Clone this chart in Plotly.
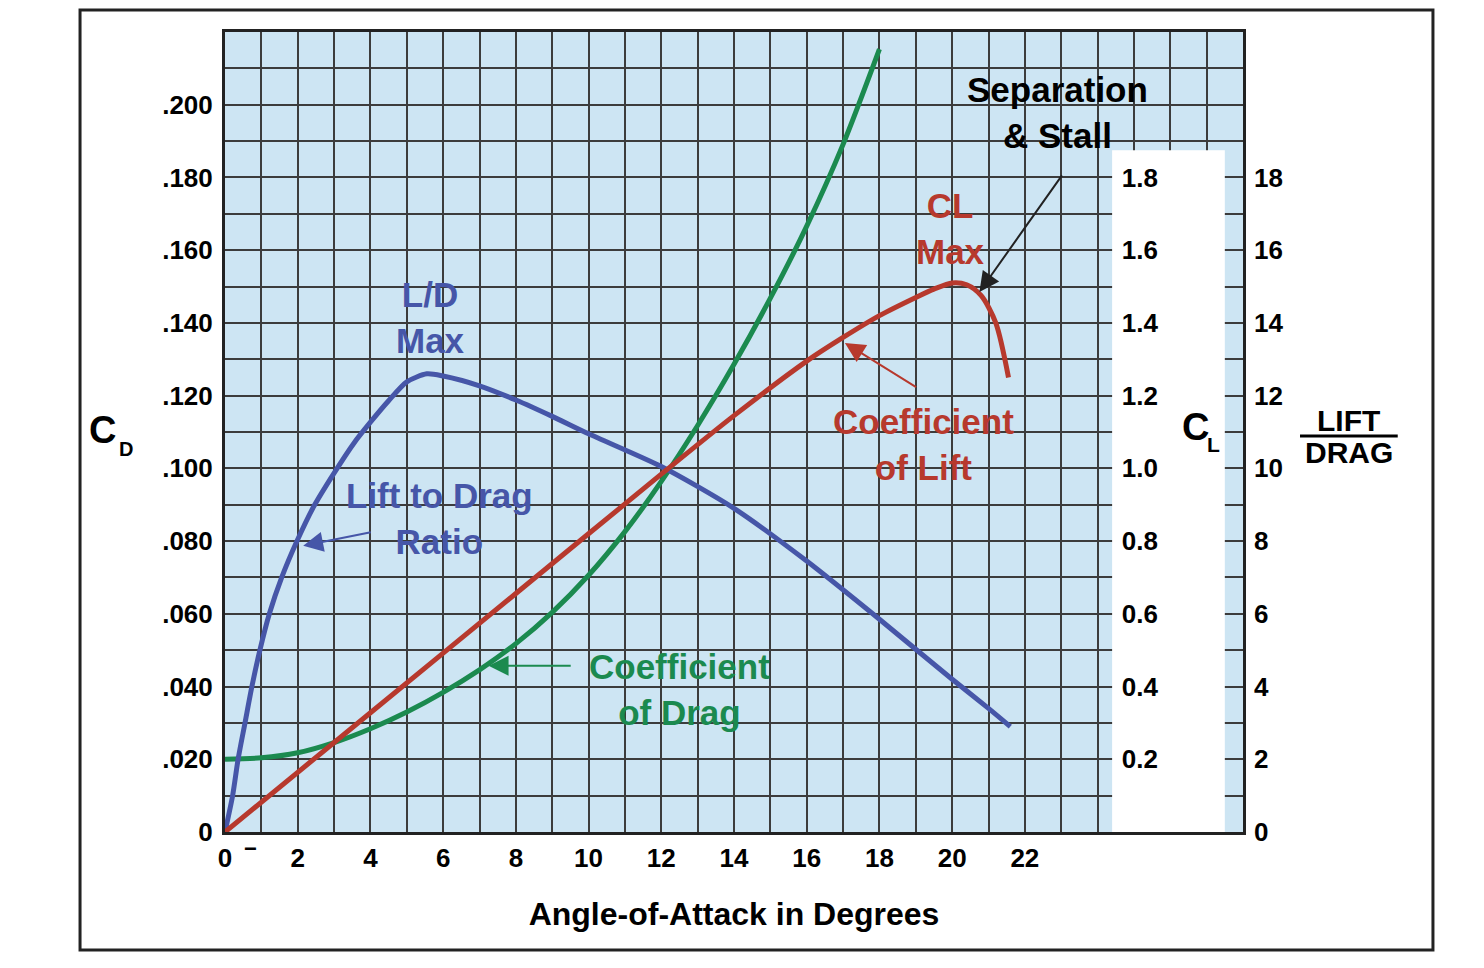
import plotly.graph_objects as go

# angle of attack (deg) and drag coefficient
aoa_drag = [0, 1, 2, 3, 4, 5, 6, 7, 8, 9, 10, 11, 12, 13, 14, 15, 16, 17, 18]
cd_values = [0.0200, 0.0204, 0.0218, 0.0246, 0.0284, 0.0330, 0.0384, 0.0446, 0.0518, 0.0604,
             0.0706, 0.0826, 0.0964, 0.1118, 0.1286, 0.1468, 0.1666, 0.1891, 0.2153]

# lift coefficient
aoa_lift = [0, 4, 8, 12, 14, 16, 17, 18, 19, 19.5, 20, 20.4, 20.8, 21.2, 21.55]
cl_values = [0, 0.328, 0.656, 0.984, 1.145, 1.295, 1.36, 1.42, 1.47, 1.493, 1.51, 1.505, 1.475, 1.40, 1.25]

# lift to drag ratio
aoa_ratio = [0, 0.21, 0.36, 0.55, 0.74, 0.96, 1.22, 1.56, 1.98, 2.44, 3.0, 3.55, 4.0, 4.5, 5.0,
             5.55, 6.0, 7.0, 8.0, 9.0, 10, 12, 14, 16, 18, 20, 21, 21.6]
ld_values = [0, 1, 2, 3, 4, 5, 6, 7, 8, 8.95, 9.87, 10.7, 11.27, 11.86, 12.38,
             12.6, 12.54, 12.27, 11.88, 11.43, 10.95, 10.05, 8.9, 7.45, 5.85, 4.2, 3.4, 2.9]

# tick labels
x_ticks = [0, 2, 4, 6, 8, 10, 12, 14, 16, 18, 20, 22]
cd_ticks = [0, 0.02, 0.04, 0.06, 0.08, 0.10, 0.12, 0.14, 0.16, 0.18, 0.20]
cd_labels = ['0', '.020', '.040', '.060', '.080', '.100', '.120', '.140', '.160', '.180', '.200']
cl_ticks = [0.2, 0.4, 0.6, 0.8, 1.0, 1.2, 1.4, 1.6, 1.8]
ld_ticks = [0, 2, 4, 6, 8, 10, 12, 14, 16, 18]

BLUE = '#4656a8'
RED = '#b7392d'
GREEN = '#1b8a4f'
FONT = 'Liberation Sans, Arial, sans-serif'
tickfont = dict(family=FONT, size=26, color='black', weight='bold')
grid = dict(gridcolor='#3c3c3c', gridwidth=1.6)

fig = go.Figure()

fig.add_trace(go.Scatter(x=aoa_drag, y=cd_values, mode='lines', yaxis='y',
                         line=dict(color=GREEN, width=5, shape='spline', smoothing=0.8)))
fig.add_trace(go.Scatter(x=aoa_lift, y=cl_values, mode='lines', yaxis='y3',
                         line=dict(color=RED, width=5, shape='spline', smoothing=0.8)))
fig.add_trace(go.Scatter(x=aoa_ratio, y=ld_values, mode='lines', yaxis='y2',
                         line=dict(color=BLUE, width=5, shape='spline', smoothing=0.7)))

fig.update_layout(
    width=1484, height=968,
    margin=dict(l=217, r=249, t=24, b=144),
    paper_bgcolor='white', plot_bgcolor='#cde5f3',
    showlegend=False,
    xaxis=dict(range=[0, 28], tickvals=x_ticks, showgrid=True, **grid,
               minor=dict(dtick=1, showgrid=True, **grid),
               showline=True, linewidth=3, linecolor='#222', mirror=True,
               zeroline=False, ticks='', ticklabelstandoff=1, tickfont=tickfont,
               title=dict(text='Angle-of-Attack in Degrees', standoff=31,
                          font=dict(family=FONT, size=32, color='black', weight='bold'))),
    yaxis=dict(range=[0, 0.22], tickvals=cd_ticks, ticktext=cd_labels, showgrid=True, **grid,
               minor=dict(dtick=0.01, showgrid=True, **grid),
               showline=True, linewidth=3, linecolor='#222', mirror=True,
               zeroline=False, ticks='', ticklabelstandoff=4, tickfont=tickfont),
    yaxis2=dict(range=[0, 22], overlaying='y', side='right', tickvals=ld_ticks,
                showgrid=False, zeroline=False, ticks='', ticklabelstandoff=10,
                tickfont=tickfont),
    yaxis3=dict(range=[0, 2.2], overlaying='y', side='right', anchor='free', position=0.878,
                tickvals=cl_ticks, tickformat='.1f', showgrid=False, zeroline=False,
                showline=False, ticks='', ticklabelstandoff=2, tickfont=tickfont),
)

# white strip behind the C_L scale, outer frame
fig.add_shape(type='rect', xref='x', yref='y', x0=24.4, x1=27.5, y0=0, y1=0.1875,
              fillcolor='white', line_width=0, layer='between')
fig.add_shape(type='rect', xref='paper', yref='paper', x0=-0.1424, x1=1.1866, y0=-0.1475, y1=1.0275,
              line=dict(color='#222', width=3))


def label(text, x, y, color, size=35, xref='x', yref='y'):
    fig.add_annotation(text=text, x=x, y=y, xref=xref, yref=yref, showarrow=False,
                       xanchor='center', yanchor='middle',
                       font=dict(family=FONT, size=size, color=color, weight='bold'))


def arrow(x, y, ax, ay, color):
    fig.add_annotation(x=x, y=y, ax=ax, ay=ay, xref='x', yref='y', axref='x', ayref='y',
                       text='', showarrow=True, arrowhead=2, arrowsize=2.0, arrowwidth=2,
                       arrowcolor=color)


label('L/D<br>Max', 5.65, 0.1414, BLUE)
label('Lift to Drag<br>Ratio', 5.91, 0.0861, BLUE)
label('Coefficient<br>of Drag', 12.5, 0.0391, GREEN)
label('CL<br>Max', 19.95, 0.166, RED)
label('Coefficient<br>of Lift', 19.2, 0.1066, RED)
label('Separation<br>& Stall', 22.9, 0.198, 'black')

arrow(2.15, 0.0787, 4.05, 0.0825, BLUE)
arrow(7.25, 0.0457, 9.55, 0.0457, GREEN)
arrow(17.05, 0.1345, 19.05, 0.1221, RED)
arrow(20.75, 0.1485, 23.05, 0.181, '#222')

# axis symbols
label('C', -0.1208, 0.5025, 'black', size=38, xref='paper', yref='paper')
label('D', -0.0973, 0.479, 'black', size=20, xref='paper', yref='paper')
label('C', 26.7, 0.1115, 'black', size=38)
label('L', 27.2, 0.1065, 'black', size=21)
label('LIFT', 1.104, 0.515, 'black', size=30, xref='paper', yref='paper')
label('DRAG', 1.104, 0.475, 'black', size=30, xref='paper', yref='paper')
fig.add_shape(type='line', xref='paper', yref='paper', x0=1.056, x1=1.152, y0=0.495, y1=0.495,
              line=dict(color='black', width=3))
label('−', 0.0255, -0.02, 'black', size=22, xref='paper', yref='paper')

fig.write_html('out.html')
